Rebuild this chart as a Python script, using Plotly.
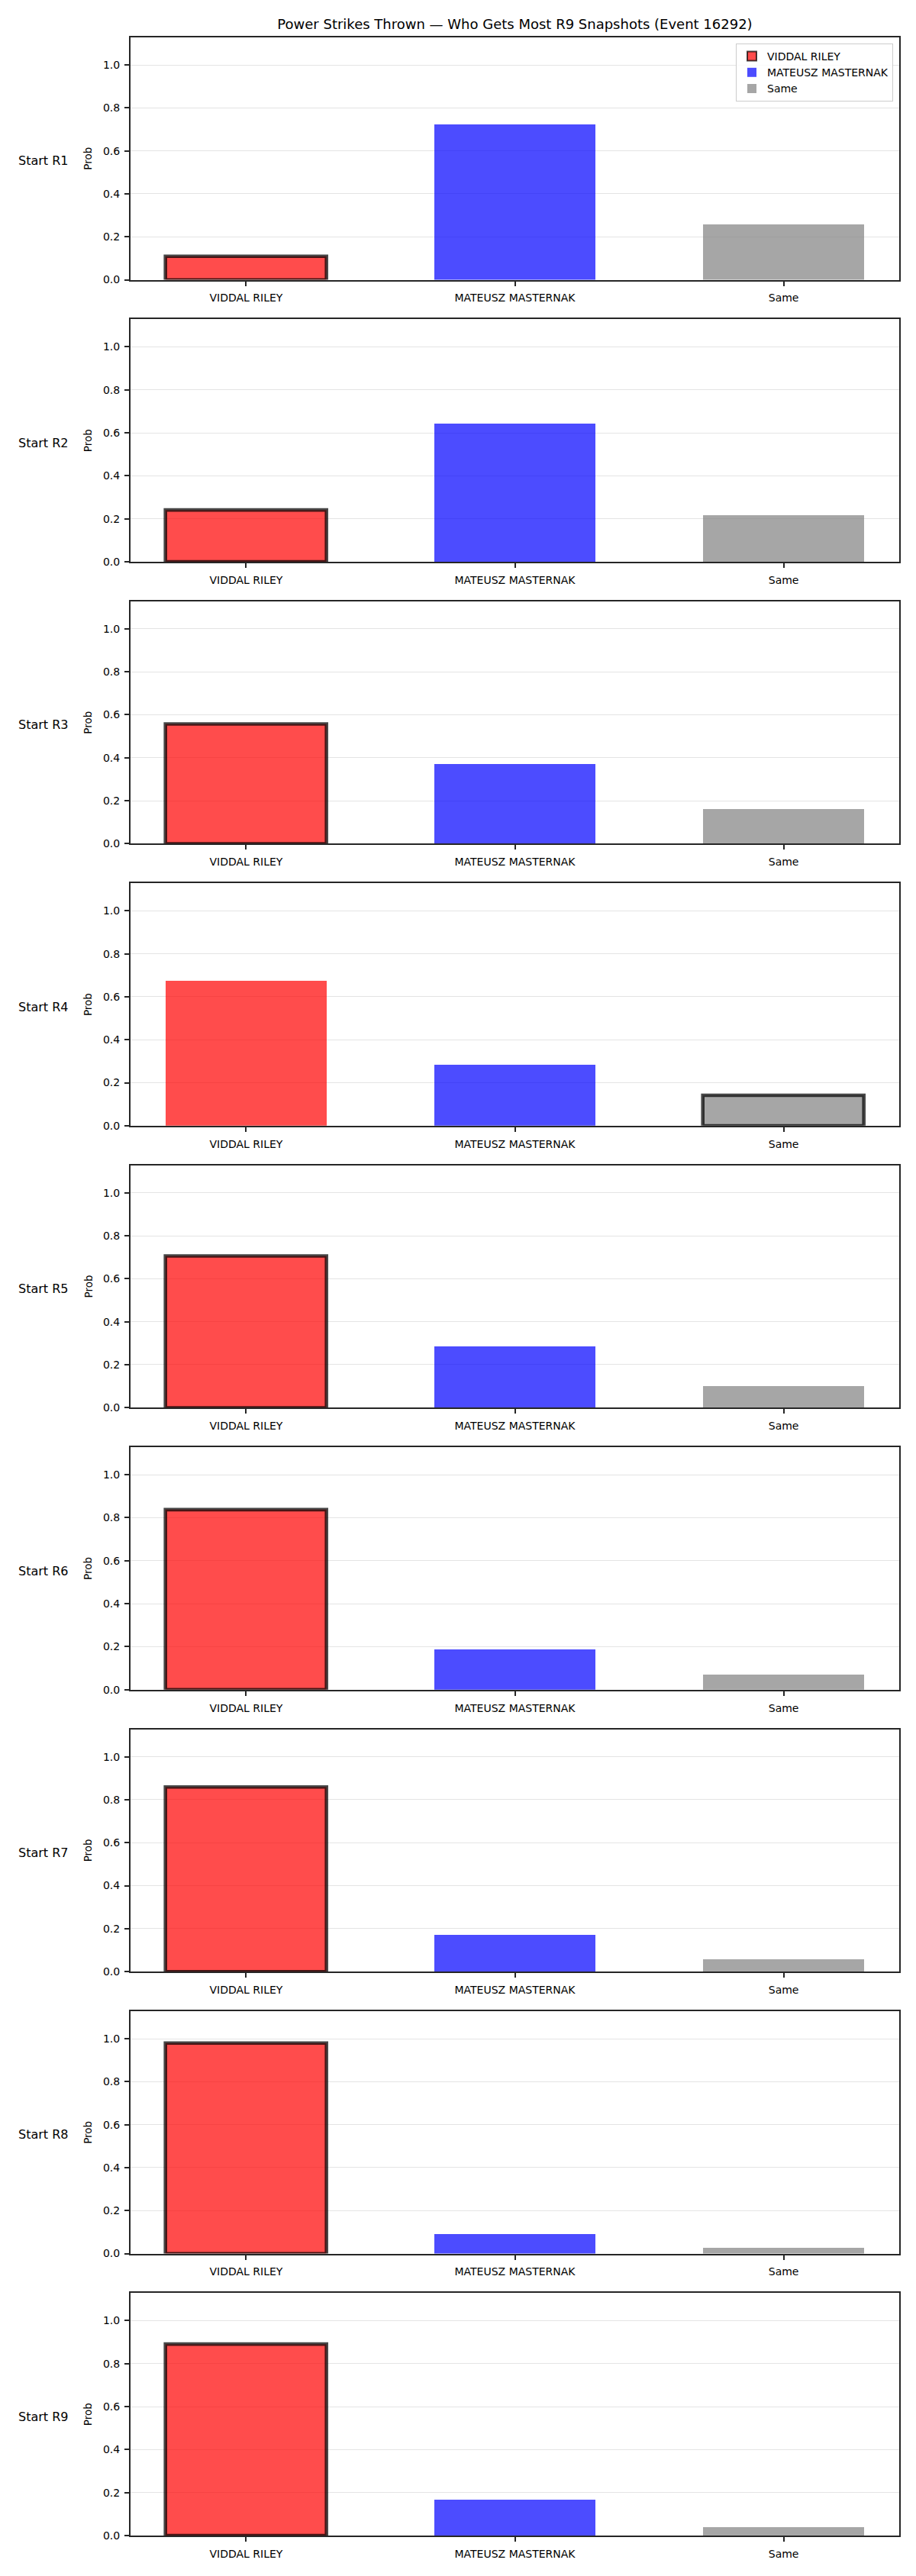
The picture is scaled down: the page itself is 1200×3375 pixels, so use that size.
import plotly.graph_objects as go
from plotly.subplots import make_subplots

# ---- data ----
categories = ["VIDDAL RILEY", "MATEUSZ MASTERNAK", "Same"]
snapshots = ["Start R1", "Start R2", "Start R3", "Start R4", "Start R5",
             "Start R6", "Start R7", "Start R8", "Start R9"]
riley_prob = [0.11, 0.24, 0.555, 0.673, 0.707, 0.838, 0.859, 0.98, 0.891]
masternak_prob = [0.724, 0.640, 0.372, 0.283, 0.287, 0.188, 0.174, 0.090, 0.166]
same_prob = [0.259, 0.215, 0.163, 0.139, 0.100, 0.071, 0.058, 0.026, 0.039]
highlighted = ["VIDDAL RILEY", "VIDDAL RILEY", "VIDDAL RILEY", "Same",
               "VIDDAL RILEY", "VIDDAL RILEY", "VIDDAL RILEY", "VIDDAL RILEY",
               "VIDDAL RILEY"]
y_ticks = [0.0, 0.2, 0.4, 0.6, 0.8, 1.0]
y_tick_labels = ["0.0", "0.2", "0.4", "0.6", "0.8", "1.0"]
title_text = "Power Strikes Thrown — Who Gets Most R9 Snapshots (Event 16292)"

# ---- style ----
fills = {
    "VIDDAL RILEY": "rgba(255,0,0,0.7)",
    "MATEUSZ MASTERNAK": "rgba(0,0,255,0.7)",
    "Same": "rgba(128,128,128,0.7)",
}
EDGE = "rgba(0,0,0,0.72)"
SPINE = "#262626"
FONT = "DejaVu Sans"

W, H = 1200, 3375
ML, MR, MT, MB = 171, 22, 49, 53
plot_w = W - ML - MR
plot_h = H - MT - MB
n = len(snapshots)
gap_px = 51.9

fig = make_subplots(rows=n, cols=1, vertical_spacing=gap_px / plot_h)

series = [riley_prob, masternak_prob, same_prob]
for i in range(n):
    row = i + 1
    for c, cat in enumerate(categories):
        hl = highlighted[i] == cat
        fig.add_trace(
            go.Bar(
                x=[cat],
                y=[series[c][i]],
                name=cat,
                width=0.6,
                marker=dict(
                    color=fills[cat],
                    line=dict(color=EDGE if hl else "rgba(0,0,0,0)",
                              width=4.6 if hl else 0),
                ),
                showlegend=(i == 0),
                legendgroup=cat,
            ),
            row=row, col=1,
        )
    fig.update_xaxes(
        row=row, col=1,
        type="category",
        categoryorder="array", categoryarray=categories,
        range=[-0.43, 2.43],
        showline=True, mirror=True, linecolor=SPINE, linewidth=2,
        ticks="outside", ticklen=6, tickwidth=1.5, tickcolor=SPINE,
        tickfont=dict(family=FONT, size=14, color="black"),
        ticklabelstandoff=4,
        showgrid=False, zeroline=False,
    )
    fig.update_yaxes(
        row=row, col=1,
        range=[0, 1.128],
        tickvals=y_ticks, ticktext=y_tick_labels,
        showline=True, mirror=True, linecolor=SPINE, linewidth=2,
        ticks="outside", ticklen=6, tickwidth=1.5, tickcolor=SPINE,
        tickfont=dict(family=FONT, size=14, color="black"),
        ticklabelstandoff=3,
        showgrid=True, gridcolor="#e4e4e4", gridwidth=1,
        zeroline=False,
    )
    yref = "y domain" if row == 1 else f"y{row} domain"
    fig.add_annotation(
        text=snapshots[i], xref="paper", yref=yref,
        x=(56.5 - ML) / plot_w, y=0.49, xanchor="center", yanchor="middle",
        showarrow=False, font=dict(family=FONT, size=16, color="black"),
    )
    fig.add_annotation(
        text="Prob", xref="paper", yref=yref,
        x=(115 - ML) / plot_w, y=0.5, xanchor="center", yanchor="middle",
        textangle=-90,
        showarrow=False, font=dict(family=FONT, size=13.5, color="black"),
    )

fig.update_layout(
    width=W, height=H,
    margin=dict(l=ML, r=MR, t=MT, b=MB, pad=0),
    paper_bgcolor="white", plot_bgcolor="white",
    barmode="overlay",
    bargap=0,
    font=dict(family=FONT, color="black"),
    title=dict(
        text=title_text, x=(ML + plot_w / 2) / W, xanchor="center",
        y=1 - 32 / H, yanchor="middle", yref="container",
        font=dict(family=FONT, size=18, color="black"),
    ),
    legend=dict(
        x=(1170 - ML) / plot_w, xanchor="right",
        y=1 - (57 - MT) / plot_h, yanchor="top",
        bgcolor="rgba(255,255,255,0.85)",
        bordercolor="#cccccc", borderwidth=1,
        font=dict(family=FONT, size=14, color="black"),
        tracegroupgap=0,
        itemsizing="constant",
    ),
    showlegend=True,
)

fig.write_html("out.html")
